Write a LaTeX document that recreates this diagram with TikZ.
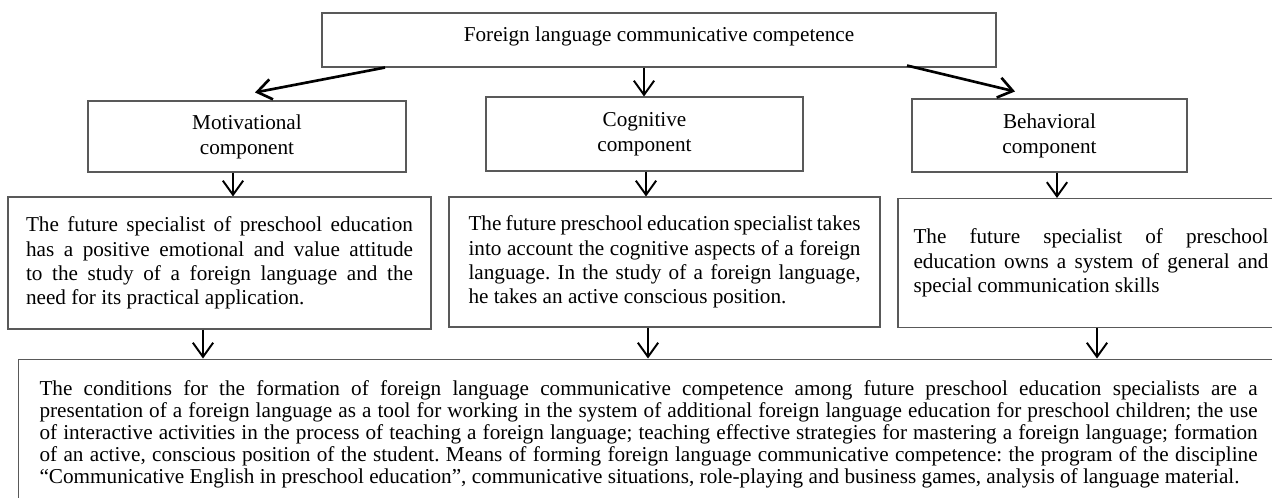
\documentclass[tikz,border=0pt]{standalone}
\usepackage{fontspec}
\setmainfont{Liberation Serif}
\usetikzlibrary{arrows.meta}
\newlength\px
\setlength\px{0.566pt}
\hyphenpenalty=10000
\frenchspacing
\tikzset{
  box/.style={draw=black!65, line width=0.6pt, align=center, inner sep=2\px, font=\fontsize{12}{14.1}\selectfont},
  descbox/.style={draw=black!65, line width=0.6pt, align=justify, inner xsep=2\px, inner ysep=2\px, font=\fontsize{12}{13.8}\selectfont},
  arr/.style={-{Straight Barb[length=8pt, width=11.5pt]}, line width=1.1pt},
  thickarr/.style={arr, line width=1.5pt}
}

\begin{document}
\begin{tikzpicture}[x=\px, y=-\px]
        \useasboundingbox (0,0) rectangle (1272,497);
        \clip (0,0) rectangle (1272,497);

        % top
        \node[box, minimum width=674\px, minimum height=54\px, text height=8pt, text depth=6.4pt] (top) at (659,40) {Foreign language communicative competence};

        % components
        \node[box, minimum width=318\px, minimum height=71\px] (mot) at (247,136.5) {Motivational\\component};
        \node[box, minimum width=317\px, minimum height=74\px] (cog) at (644.5,134) {Cognitive\\component};
        \node[box, minimum width=275\px, minimum height=73\px] (beh) at (1049.5,135.5) {Behavioral\\component};

        % descriptions
        \node[descbox, text width=387\px, minimum width=423\px, minimum height=132\px] (motdesc) at (219.5,263)
          {The future specialist of preschool education\linebreak has a positive emotional and value attitude\linebreak to the study of a foreign language and the\linebreak need for its practical application.};
        \node[descbox, text width=392\px, minimum width=431\px, minimum height=130\px] (cogdesc) at (664.5,262)
          {The future preschool education specialist takes\linebreak into account the cognitive aspects of a foreign\linebreak language. In the study of a foreign language,\linebreak he takes an active conscious position.};
        \node[descbox, text width=355\px, minimum width=386\px, minimum height=129\px] (behdesc) at (1091,263)
          {The future specialist of preschool\linebreak education owns a system of general and\linebreak special communication skills};

        % conditions
        \node[descbox, anchor=north west, text width=1218\px, inner xsep=21\px, inner ysep=22\px, font=\fontsize{12}{12.4}\selectfont] (cond) at (18,358.5)
          {The conditions for the formation of foreign language communicative competence among future preschool education specialists are a\linebreak presentation of a foreign language as a tool for working in the system of additional foreign language education for preschool children; the use\linebreak of interactive activities in the process of teaching a foreign language; teaching effective strategies for mastering a foreign language; formation\linebreak of an active, conscious position of the student. Means of forming foreign language communicative competence: the program of the discipline\linebreak “Communicative English in preschool education”, communicative situations, role-playing and business games, analysis of language material.};

        % arrows
        \draw[thickarr] ([xshift=-274\px]top.south) -- ([xshift=8\px, yshift=8\px]mot.north);
        \draw[arr] ([xshift=-15\px]top.south) -- ([xshift=-15\px]top.south |- cog.north);
        \draw[thickarr] ([xshift=248\px, yshift=2\px]top.south) -- ([xshift=-34.5\px, yshift=7\px]beh.north);

        \draw[arr] ([xshift=-14\px]mot.south) -- ([xshift=-14\px]mot.south |- motdesc.north);
        \draw[arr] ([xshift=1.5\px]cog.south) -- ([xshift=1.5\px]cog.south |- cogdesc.north);
        \draw[arr] ([xshift=7.5\px]beh.south) -- ([xshift=7.5\px]beh.south |- behdesc.north);

        \draw[arr] ([xshift=-16.5\px]motdesc.south) -- ([xshift=-16.5\px]motdesc.south |- cond.north);
        \draw[arr] ([xshift=-16.5\px]cogdesc.south) -- ([xshift=-16.5\px]cogdesc.south |- cond.north);
        \draw[arr] ([xshift=6\px]behdesc.south) -- ([xshift=6\px]behdesc.south |- cond.north);
    \end{tikzpicture}
\end{document}
